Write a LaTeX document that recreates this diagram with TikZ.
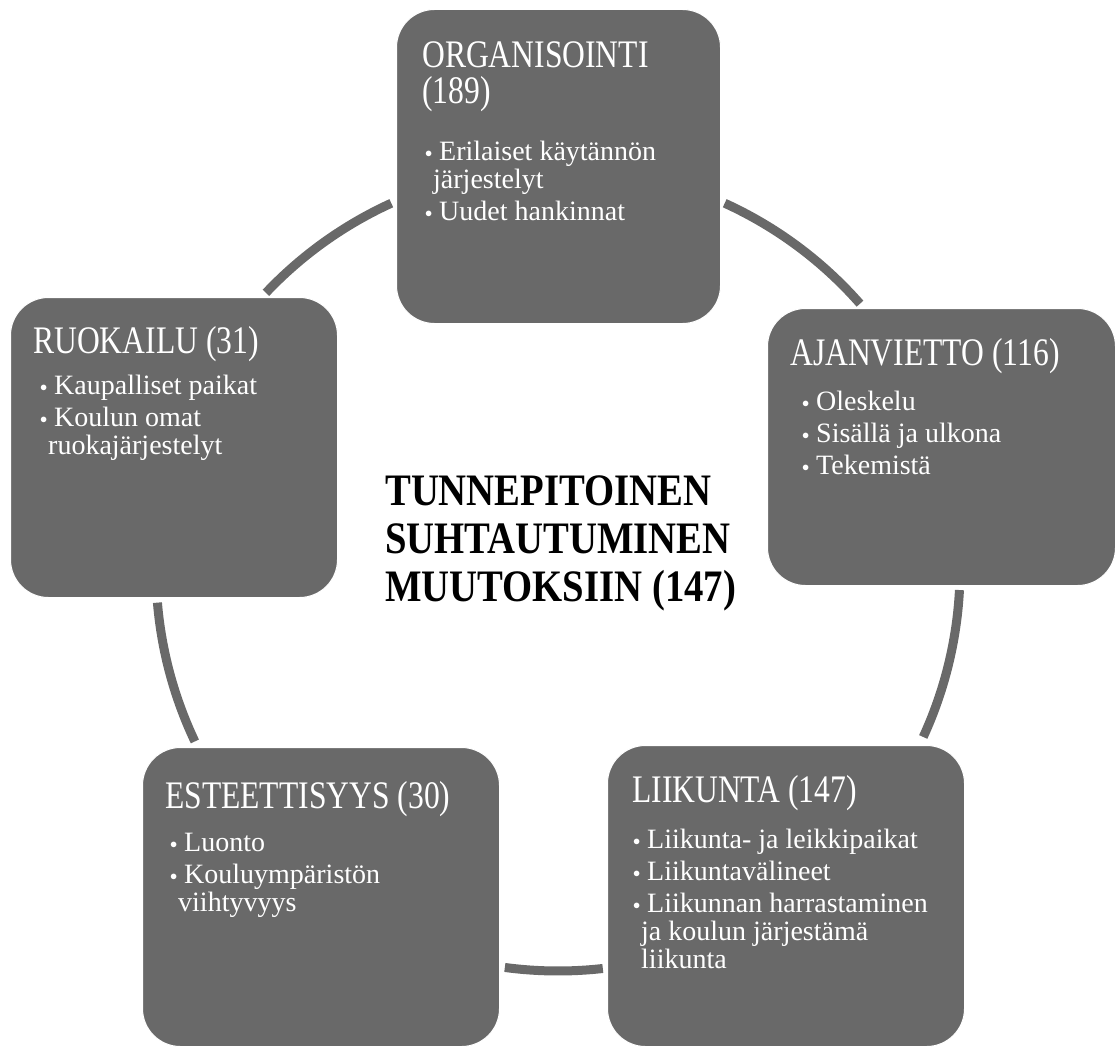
\documentclass[tikz,border=0pt]{standalone}
\usepackage{fontspec}
\setmainfont{Liberation Serif}
\newfontfamily\capfont[FakeStretch=0.81]{Liberation Serif}
\newfontfamily\hubfont[FakeStretch=0.86]{Liberation Serif}
\definecolor{cardgray}{RGB}{105,105,105}
\newcommand{\dotitem}{\makebox[14pt][l]{\fontsize{15}{15}\selectfont\raisebox{3pt}{$\bullet$}}}
\newcommand{\contline}{\hspace*{8pt}}

\begin{document}
\begin{tikzpicture}[x=1pt, y=1pt,
    card/.style={rectangle, rounded corners=38pt, fill=cardgray, draw=white, line width=1pt, anchor=north west, inner sep=0pt},
    cardhead/.style={anchor=north west, inner sep=0pt, align=left, text=white, font=\capfont\fontsize{39}{36}\selectfont},
    cardlist/.style={anchor=north west, inner sep=0pt, align=left, text=white, font=\fontsize{28}{28}\selectfont},
    ringarc/.style={draw=cardgray, line width=9pt}]
    \useasboundingbox (0,0) rectangle (1115,-1046);

    % ring behind the cards
    \coordinate (ring) at (558,-569);
    \draw[ringarc] (ring) ++(114.5:402) arc[start angle=114.5, end angle=136.6, radius=402];
    \draw[ringarc] (ring) ++(41.3:402) arc[start angle=41.3, end angle=65.5, radius=402];
    \draw[ringarc] (ring) ++(-24.7:402) arc[start angle=-24.7, end angle=-3, radius=402];
    \draw[ringarc] (ring) ++(-97.6:402) arc[start angle=-97.6, end angle=-83.6, radius=402];
    \draw[ringarc] (ring) ++(184.8:402) arc[start angle=184.8, end angle=205.4, radius=402];

    \node[card, minimum width=324, minimum height=314] (org) at (396,-9) {};
    \node[card, minimum width=327, minimum height=300] (ruo) at (10,-297) {};
    \node[card, minimum width=348, minimum height=277] (aja) at (767,-308) {};
    \node[card, minimum width=357, minimum height=299] (est) at (142,-747) {};
    \node[card, minimum width=357, minimum height=301] (lii) at (607,-745) {};

    \node[cardhead] (orghead) at ([shift={(26,-28)}]org.north west) {\rule{0pt}{30pt}ORGANISOINTI\\(189)};
    \node[cardlist] (orglist) at ([shift={(29,-129)}]org.north west)
        {\rule{0pt}{22pt}\dotitem Erilaiset käytännön\\ \contline järjestelyt\\[4pt] \dotitem Uudet hankinnat};

    \node[cardhead] (ruohead) at ([shift={(23,-26)}]ruo.north west) {\rule{0pt}{30pt}RUOKAILU (31)};
    \node[cardlist] (ruolist) at ([shift={(30,-75)}]ruo.north west)
        {\rule{0pt}{22pt}\dotitem Kaupalliset paikat\\[4pt] \dotitem Koulun omat\\ \contline ruokajärjestelyt};

    \node[cardhead] (ajahead) at ([shift={(23,-27)}]aja.north west) {\rule{0pt}{30pt}AJANVIETTO (116)};
    \node[cardlist] (ajalist) at ([shift={(35,-80)}]aja.north west)
        {\rule{0pt}{22pt}\dotitem Oleskelu\\[4pt] \dotitem Sisällä ja ulkona\\[4pt] \dotitem Tekemistä};

    \node[cardhead] (esthead) at ([shift={(23,-31)}]est.north west) {\rule{0pt}{30pt}ESTEETTISYYS (30)};
    \node[cardlist] (estlist) at ([shift={(28,-82)}]est.north west)
        {\rule{0pt}{22pt}\dotitem Luonto\\[4pt] \dotitem Kouluympäristön\\ \contline viihtyvyys};

    \node[cardhead] (liihead) at ([shift={(25,-27)}]lii.north west) {\rule{0pt}{30pt}LIIKUNTA (147)};
    \node[cardlist] (liilist) at ([shift={(26,-81)}]lii.north west)
        {\rule{0pt}{22pt}\dotitem Liikunta- ja leikkipaikat\\[4pt] \dotitem Liikuntavälineet\\[4pt]
         \dotitem Liikunnan harrastaminen\\ \contline ja koulun järjestämä\\ \contline liikunta};

    \node[anchor=north west, inner sep=0pt, align=left, font=\hubfont\bfseries\fontsize{45}{48}\selectfont] (hub) at (385,-465)
        {\rule{0pt}{40pt}TUNNEPITOINEN\\SUHTAUTUMINEN\\MUUTOKSIIN (147)};
\end{tikzpicture}
\end{document}
